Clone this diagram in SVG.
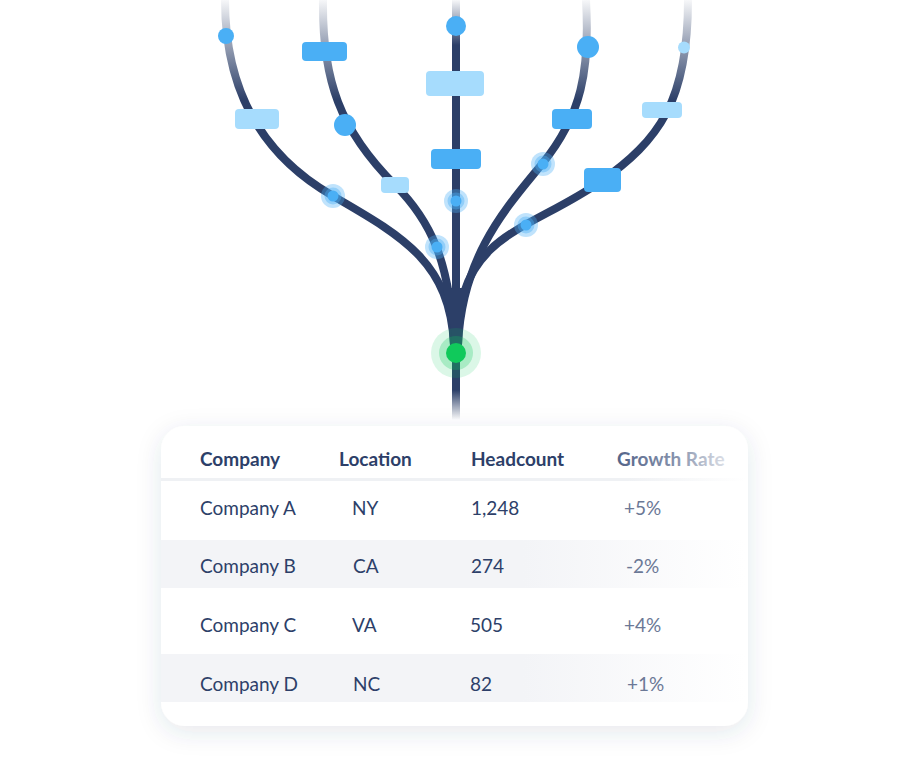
<svg xmlns="http://www.w3.org/2000/svg" width="909" height="767" viewBox="0 0 909 767">
<defs>
<linearGradient id="fadeTop" gradientUnits="userSpaceOnUse" x1="0" y1="0" x2="0" y2="100">
<stop offset="0" stop-color="#2c3f68" stop-opacity="0.04"/>
<stop offset="0.4" stop-color="#2c3f68" stop-opacity="0.45"/>
<stop offset="1" stop-color="#2c3f68" stop-opacity="1"/>
</linearGradient>
<linearGradient id="fadeTopC" gradientUnits="userSpaceOnUse" x1="0" y1="0" x2="0" y2="45">
<stop offset="0" stop-color="#2c3f68" stop-opacity="0.04"/>
<stop offset="1" stop-color="#2c3f68" stop-opacity="1"/>
</linearGradient>
<linearGradient id="fadeBot" gradientUnits="userSpaceOnUse" x1="0" y1="390" x2="0" y2="420">
<stop offset="0" stop-color="#2c3f68" stop-opacity="1"/>
<stop offset="1" stop-color="#2c3f68" stop-opacity="0"/>
</linearGradient>
<linearGradient id="rowFade" gradientUnits="userSpaceOnUse" x1="161" y1="0" x2="745" y2="0">
<stop offset="0" stop-color="#f3f4f7"/>
<stop offset="0.62" stop-color="#f3f4f7"/>
<stop offset="1" stop-color="#ffffff"/>
</linearGradient>
<linearGradient id="lineFade" gradientUnits="userSpaceOnUse" x1="161" y1="0" x2="745" y2="0">
<stop offset="0" stop-color="#eff1f4"/>
<stop offset="0.8" stop-color="#eff1f4"/>
<stop offset="1" stop-color="#ffffff"/>
</linearGradient>
<linearGradient id="hdrFade" gradientUnits="userSpaceOnUse" x1="617" y1="0" x2="724" y2="0">
<stop offset="0" stop-color="#54648a"/>
<stop offset="0.55" stop-color="#8692ac"/>
<stop offset="1" stop-color="#d9dde5"/>
</linearGradient>
<filter id="shadow" x="-20%" y="-20%" width="140%" height="150%">
<feDropShadow dx="0" dy="6" stdDeviation="12" flood-color="#2c3f68" flood-opacity="0.12"/>
</filter>
</defs>
<style>
.br{fill:none;stroke:url(#fadeTop);stroke-width:8;stroke-linecap:butt}
.mid{fill:#4aaff5}
.light{fill:#a6dcfd}
.g1{fill:#4aaff5;fill-opacity:0.35}
.g2{fill:#4aaff5;fill-opacity:0.4}
.hd{font-family:Lato,"Noto Sans",sans-serif;font-size:19px;font-weight:700;fill:#2d3f69}
.tx{font-family:Lato,"Noto Sans",sans-serif;font-size:19px;fill:#2d3f69}
.gr{font-family:Lato,"Noto Sans",sans-serif;font-size:19px;fill:#6b7896}
</style>

<g id="connectors">
<path class="br" d="M225,0 C225,100 270,160 333,196 C402,236 450,262 454,345"/>
<path class="br" d="M323,0 C322,80 340,130 395,185 C430,220 450,260 454,345"/>
<path class="br" d="M586,0 C590,70 582,115 542,164 C507,207 462,255 458,345"/>
<path class="br" d="M688,0 C688,100 660,140 600,182 C560,210 515,225 490,250 C465,275 459,300 458,345"/>
<path fill="none" stroke="url(#fadeTopC)" stroke-width="8" d="M456,0 L456,345"/>
<path fill="#2c3f68" d="M443,288 C447,310 452,325 452,345 L460,345 C460,325 465,310 469,288 Z"/>
<path fill="none" stroke="url(#fadeBot)" stroke-width="8" d="M456,340 L456,420"/>
</g>

<g id="branch1">
<circle class="mid" cx="226" cy="36" r="8"/>
<rect class="light" x="235" y="109" width="44" height="20" rx="4"/>
<circle class="g1" cx="333" cy="196" r="12"/>
<circle class="g2" cx="333" cy="196" r="8.5"/>
<circle class="mid" cx="333" cy="196" r="5.5"/>
</g>
<g id="branch2">
<rect class="mid" x="302" y="42" width="45" height="19" rx="4"/>
<circle class="mid" cx="345" cy="125" r="11"/>
<rect class="light" x="381" y="177" width="28" height="16" rx="4"/>
<circle class="g1" cx="437" cy="247" r="12"/>
<circle class="g2" cx="437" cy="247" r="8.5"/>
<circle class="mid" cx="437" cy="247" r="5.5"/>
</g>
<g id="branch3">
<circle class="mid" cx="456" cy="26" r="10"/>
<rect class="light" x="426" y="71" width="58" height="25" rx="4"/>
<rect class="mid" x="431" y="149" width="50" height="20" rx="4"/>
<circle class="g1" cx="456" cy="201" r="12"/>
<circle class="g2" cx="456" cy="201" r="8.5"/>
<circle class="mid" cx="456" cy="201" r="5.5"/>
</g>
<g id="branch4">
<circle class="mid" cx="588" cy="47" r="11"/>
<rect class="mid" x="552" y="109" width="40" height="20" rx="4"/>
<circle class="g1" cx="543" cy="164" r="12"/>
<circle class="g2" cx="543" cy="164" r="8.5"/>
<circle class="mid" cx="543" cy="164" r="5.5"/>
</g>
<g id="branch5">
<circle class="light" cx="684" cy="47.5" r="6"/>
<rect class="light" x="642" y="102" width="40" height="16" rx="4"/>
<rect class="mid" x="584" y="168" width="37" height="24" rx="4"/>
<circle class="g1" cx="526" cy="225" r="12"/>
<circle class="g2" cx="526" cy="225" r="8.5"/>
<circle class="mid" cx="526" cy="225" r="5.5"/>
</g>
<g id="root">
<circle cx="456" cy="353" r="25" fill="#10c95b" fill-opacity="0.15"/>
<circle cx="456" cy="353" r="17" fill="#10c95b" fill-opacity="0.25"/>
<circle cx="456" cy="353" r="10" fill="#10c95b"/>
</g>

<g id="table">
<rect x="161" y="426" width="587" height="300" rx="24" fill="#ffffff" filter="url(#shadow)"/>
<rect x="161" y="478" width="584" height="3" fill="url(#lineFade)"/>
<rect x="161" y="540" width="584" height="48" fill="url(#rowFade)"/>
<rect x="161" y="654" width="584" height="48" fill="url(#rowFade)"/>
<text class="hd" x="200" y="466">Company</text>
<text class="hd" x="339" y="466">Location</text>
<text class="hd" x="471" y="466">Headcount</text>
<text class="hd" x="617" y="466" style="fill:url(#hdrFade)">Growth Rate</text>
<text class="tx" x="200" y="515">Company A</text>
<text class="tx" x="352" y="515">NY</text>
<text class="tx" x="471" y="515">1,248</text>
<text class="gr" x="624" y="515">+5%</text>
<text class="tx" x="200" y="573">Company B</text>
<text class="tx" x="353" y="573">CA</text>
<text class="tx" x="471" y="573">274</text>
<text class="gr" x="626" y="573">-2%</text>
<text class="tx" x="200" y="632">Company C</text>
<text class="tx" x="352" y="632">VA</text>
<text class="tx" x="470" y="632">505</text>
<text class="gr" x="624" y="632">+4%</text>
<text class="tx" x="200" y="691">Company D</text>
<text class="tx" x="353" y="691">NC</text>
<text class="tx" x="470" y="691">82</text>
<text class="gr" x="627" y="691">+1%</text>
</g>
</svg>
